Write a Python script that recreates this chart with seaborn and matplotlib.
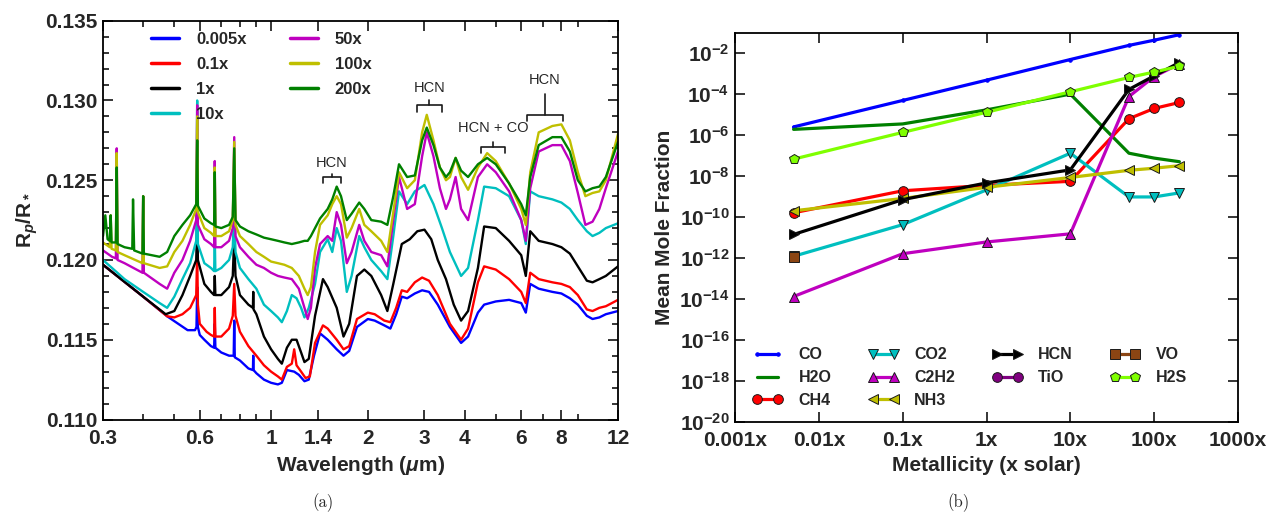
import numpy as np
import pandas as pd
import matplotlib
matplotlib.use("Agg")
import matplotlib.pyplot as plt
from matplotlib.lines import Line2D
from matplotlib.ticker import (FixedLocator, FixedFormatter, LogLocator,
                               MultipleLocator, NullLocator, NullFormatter,
                               FormatStrFormatter)
import seaborn as sns

# ---------------- panel (a): transmission spectra ----------------
metal_labels = ["0.005x", "0.1x", "1x", "10x", "50x", "100x", "200x"]
metal_colors = ["#0000ff", "#ff0000", "#000000", "#00bfbf", "#bf00bf", "#bfbf00", "#008000"]

wl_0005 = [0.30, 0.40, 0.475, 0.55, 0.58, 0.586, 0.589, 0.592, 0.60, 0.62, 0.65, 0.665, 0.668, 0.671,
           0.70, 0.74, 0.765, 0.768, 0.771, 0.80, 0.85, 0.878, 0.88, 0.882, 0.90, 0.95, 1.0, 1.05, 1.08,
           1.12, 1.18, 1.22, 1.27, 1.31, 1.36, 1.42, 1.5, 1.6, 1.68, 1.75, 1.85, 2.0, 2.1, 2.25, 2.35,
           2.45, 2.55, 2.65, 2.8, 2.95, 3.1, 3.3, 3.6, 3.9, 4.1, 4.4, 4.6, 5.0, 5.5, 6.0, 6.2, 6.4,
           6.8, 7.5, 8.0, 8.5, 9.0, 9.6, 10.0, 10.5, 11.0, 12.0]
rp_0005 = [0.1197, 0.1177, 0.11647, 0.1156, 0.1156, 0.1158, 0.1183, 0.1158, 0.1153, 0.1150, 0.1146,
           0.1145, 0.1160, 0.1145, 0.1142, 0.1140, 0.1140, 0.1162, 0.1139, 0.1137, 0.1132, 0.1131,
           0.1140, 0.1131, 0.1129, 0.1125, 0.1123, 0.1122, 0.1123, 0.1131, 0.1130, 0.1128, 0.1124,
           0.1125, 0.1140, 0.1154, 0.1150, 0.1144, 0.1140, 0.1143, 0.1158, 0.1163, 0.1162, 0.1159,
           0.1157, 0.1166, 0.1177, 0.1176, 0.1179, 0.1181, 0.1180, 0.1172, 0.1158, 0.1148, 0.1152,
           0.1167, 0.1172, 0.1174, 0.1175, 0.1173, 0.1167, 0.1185, 0.1182, 0.1180, 0.1179, 0.1176,
           0.1172, 0.1165, 0.1163, 0.1164, 0.1166, 0.1168]

wl_01 = [0.30, 0.40, 0.475, 0.50, 0.53, 0.56, 0.585, 0.589, 0.592, 0.60, 0.63, 0.65, 0.665, 0.668,
         0.671, 0.70, 0.74, 0.76, 0.768, 0.775, 0.80, 0.85, 0.90, 0.95, 1.0, 1.05, 1.08, 1.12, 1.16,
         1.18, 1.2, 1.24, 1.28, 1.32, 1.37, 1.45, 1.5, 1.6, 1.68, 1.75, 1.85, 2.0, 2.1, 2.25, 2.35,
         2.45, 2.55, 2.65, 2.8, 2.95, 3.1, 3.3, 3.6, 3.9, 4.1, 4.4, 4.6, 5.0, 5.5, 6.0, 6.2, 6.4,
         6.8, 7.5, 8.0, 8.5, 9.0, 9.6, 10.0, 10.5, 11.0, 12.0]
rp_01 = [0.1197, 0.1177, 0.11647, 0.1164, 0.1166, 0.1170, 0.1178, 0.1205, 0.1172, 0.1160, 0.1155,
         0.1153, 0.1152, 0.1170, 0.1152, 0.1152, 0.1157, 0.1165, 0.1185, 0.1165, 0.1155, 0.1146,
         0.1140, 0.1134, 0.1130, 0.1127, 0.1125, 0.1133, 0.1135, 0.1144, 0.1134, 0.1130, 0.1126,
         0.1127, 0.1148, 0.1159, 0.1157, 0.1150, 0.1144, 0.1146, 0.1163, 0.1167, 0.1166, 0.1162,
         0.1161, 0.1170, 0.1181, 0.1180, 0.1186, 0.1189, 0.1187, 0.1178, 0.1160, 0.1150, 0.1157,
         0.1186, 0.1196, 0.1194, 0.1188, 0.1180, 0.1173, 0.1192, 0.1188, 0.1186, 0.1185, 0.1183,
         0.1178, 0.1169, 0.1168, 0.1170, 0.1171, 0.1175]

wl_1 = [0.30, 0.40, 0.47, 0.50, 0.53, 0.56, 0.585, 0.589, 0.592, 0.62, 0.65, 0.665, 0.668, 0.671,
        0.70, 0.74, 0.76, 0.768, 0.775, 0.80, 0.85, 0.878, 0.88, 0.882, 0.90, 0.95, 1.0, 1.05, 1.08,
        1.12, 1.16, 1.2, 1.24, 1.27, 1.31, 1.37, 1.45, 1.5, 1.6, 1.68, 1.75, 1.85, 1.95, 2.05, 2.2,
        2.3, 2.4, 2.55, 2.7, 2.85, 3.0, 3.15, 3.3, 3.5, 3.7, 3.9, 4.1, 4.4, 4.6, 5.0, 5.5, 6.0,
        6.2, 6.4, 6.8, 7.5, 8.0, 8.5, 9.0, 9.6, 10.0, 10.5, 11.0, 12.0]
rp_1 = [0.1197, 0.1177, 0.1166, 0.1168, 0.1178, 0.1190, 0.1200, 0.1223, 0.1200, 0.1185, 0.1180,
        0.1178, 0.1190, 0.1178, 0.1178, 0.1183, 0.1190, 0.1215, 0.1190, 0.1178, 0.1172, 0.1170,
        0.1180, 0.1169, 0.1166, 0.1152, 0.1144, 0.1138, 0.1135, 0.1145, 0.1150, 0.1150, 0.1142,
        0.1136, 0.1138, 0.1165, 0.1188, 0.1183, 0.1170, 0.1152, 0.1160, 0.1190, 0.1194, 0.1190,
        0.1178, 0.1168, 0.1185, 0.1210, 0.1213, 0.1218, 0.1219, 0.1213, 0.1200, 0.1188, 0.1172,
        0.1162, 0.1168, 0.1195, 0.1221, 0.1220, 0.1212, 0.1203, 0.1190, 0.1218, 0.1212, 0.1210,
        0.1208, 0.1204, 0.1196, 0.1187, 0.1186, 0.1188, 0.1190, 0.1196]

wl_10 = [0.30, 0.32, 0.35, 0.40, 0.45, 0.475, 0.50, 0.53, 0.56, 0.585, 0.589, 0.592, 0.62, 0.65,
         0.665, 0.668, 0.671, 0.70, 0.74, 0.76, 0.768, 0.775, 0.80, 0.85, 0.90, 0.95, 1.0, 1.05,
         1.08, 1.12, 1.16, 1.2, 1.24, 1.27, 1.31, 1.37, 1.42, 1.5, 1.55, 1.6, 1.65, 1.72, 1.78, 1.88,
         1.95, 2.05, 2.2, 2.3, 2.4, 2.5, 2.65, 2.8, 3.0, 3.2, 3.4, 3.6, 3.9, 4.1, 4.4, 4.6, 5.0,
         5.5, 6.0, 6.2, 6.4, 6.8, 7.5, 8.0, 8.5, 9.0, 9.6, 10.0, 10.5, 11.0, 12.0]
rp_10 = [0.1200, 0.1195, 0.1188, 0.1180, 0.1173, 0.1170, 0.1177, 0.1188, 0.1198, 0.1212, 0.1300,
         0.1210, 0.1198, 0.1195, 0.1193, 0.1215, 0.1193, 0.1195, 0.1200, 0.1208, 0.1232, 0.1205,
         0.1195, 0.1188, 0.1182, 0.1172, 0.1168, 0.1164, 0.1161, 0.1168, 0.1178, 0.1176, 0.1170,
         0.1164, 0.1170, 0.1185, 0.1205, 0.1213, 0.1205, 0.1220, 0.1212, 0.1180, 0.1190, 0.1215,
         0.1208, 0.1200, 0.1193, 0.1188, 0.1215, 0.1243, 0.1235, 0.1243, 0.1247, 0.1235, 0.1220,
         0.1205, 0.1190, 0.1195, 0.1225, 0.1246, 0.1245, 0.1240, 0.1225, 0.1210, 0.1243, 0.1240,
         0.1238, 0.1236, 0.1232, 0.1225, 0.1218, 0.1215, 0.1217, 0.1220, 0.1223]

wl_50 = [0.30, 0.32, 0.329, 0.331, 0.333, 0.35, 0.398, 0.40, 0.402, 0.45, 0.475, 0.50, 0.53, 0.56,
         0.585, 0.589, 0.592, 0.62, 0.65, 0.665, 0.668, 0.671, 0.70, 0.74, 0.76, 0.768, 0.775, 0.80,
         0.85, 0.90, 0.95, 1.0, 1.05, 1.1, 1.16, 1.22, 1.27, 1.3, 1.33, 1.37, 1.42, 1.5, 1.55, 1.6,
         1.65, 1.72, 1.78, 1.88, 1.95, 2.05, 2.2, 2.3, 2.4, 2.5, 2.65, 2.8, 2.95, 3.05, 3.2, 3.35,
         3.5, 3.6, 3.75, 3.9, 4.1, 4.4, 4.7, 5.0, 5.5, 6.0, 6.2, 6.4, 6.8, 7.5, 8.0, 8.5, 9.0, 9.5,
         10.0, 10.5, 11.0, 12.0]
rp_50 = [0.1206, 0.1202, 0.1201, 0.1270, 0.1200, 0.1198, 0.1192, 0.1240, 0.1192, 0.1185, 0.1182,
         0.1192, 0.1200, 0.1212, 0.1225, 0.1297, 0.1222, 0.1213, 0.1210, 0.1208, 0.1262, 0.1208,
         0.1208, 0.1212, 0.1220, 0.1277, 0.1215, 0.1208, 0.1202, 0.1197, 0.1195, 0.1192, 0.1190,
         0.1189, 0.1188, 0.1182, 0.1170, 0.1163, 0.1170, 0.1195, 0.1210, 0.1215, 0.1212, 0.1230,
         0.1222, 0.1198, 0.1205, 0.1222, 0.1212, 0.1205, 0.1203, 0.1196, 0.1225, 0.1252, 0.1232,
         0.1235, 0.1265, 0.1280, 0.1265, 0.1245, 0.1232, 0.1238, 0.1252, 0.1232, 0.1225, 0.1252,
         0.1260, 0.1255, 0.1243, 0.1225, 0.1212, 0.1245, 0.1268, 0.1272, 0.1272, 0.1262, 0.1242,
         0.1222, 0.1224, 0.1232, 0.1245, 0.1268]

wl_100 = [0.30, 0.315, 0.317, 0.319, 0.329, 0.331, 0.333, 0.35, 0.398, 0.40, 0.402, 0.45, 0.475,
          0.50, 0.53, 0.56, 0.585, 0.589, 0.592, 0.62, 0.65, 0.665, 0.668, 0.671, 0.70, 0.74, 0.76,
          0.768, 0.775, 0.80, 0.85, 0.90, 0.95, 1.0, 1.05, 1.1, 1.16, 1.22, 1.27, 1.3, 1.33, 1.37,
          1.42, 1.5, 1.55, 1.6, 1.65, 1.72, 1.78, 1.88, 1.95, 2.05, 2.2, 2.3, 2.4, 2.5, 2.65, 2.8,
          2.95, 3.05, 3.2, 3.35, 3.5, 3.6, 3.75, 3.9, 4.1, 4.4, 4.7, 5.0, 5.5, 6.0, 6.2, 6.4, 6.8,
          7.5, 8.0, 8.5, 9.0, 9.5, 10.0, 10.5, 11.0, 12.0]
rp_100 = [0.1211, 0.1208, 0.1228, 0.1207, 0.1206, 0.1267, 0.1205, 0.1203, 0.1198, 0.1240, 0.1198,
          0.1195, 0.1196, 0.1205, 0.1212, 0.1222, 0.1232, 0.1290, 0.1230, 0.1220, 0.1217, 0.1215,
          0.1258, 0.1215, 0.1215, 0.1218, 0.1225, 0.1274, 0.1222, 0.1215, 0.1210, 0.1205, 0.1202,
          0.1199, 0.1198, 0.1197, 0.1195, 0.1190, 0.1182, 0.1178, 0.1183, 0.1205, 0.1222, 0.1228,
          0.1235, 0.1240, 0.1235, 0.1214, 0.1220, 0.1232, 0.1222, 0.1218, 0.1212, 0.1205, 0.1230,
          0.1255, 0.1245, 0.1250, 0.1280, 0.1291, 0.1275, 0.1258, 0.1250, 0.1252, 0.1264, 0.1252,
          0.1244, 0.1258, 0.1267, 0.1262, 0.1248, 0.1232, 0.1222, 0.1255, 0.1280, 0.1284, 0.1285,
          0.1275, 0.1255, 0.1240, 0.1242, 0.1243, 0.1250, 0.1279]

wl_200 = [0.30, 0.305, 0.31, 0.315, 0.317, 0.319, 0.329, 0.331, 0.333, 0.35, 0.37, 0.372, 0.375,
          0.398, 0.40, 0.402, 0.45, 0.475, 0.50, 0.53, 0.56, 0.585, 0.589, 0.592, 0.62, 0.65, 0.665,
          0.668, 0.671, 0.70, 0.74, 0.76, 0.768, 0.775, 0.80, 0.85, 0.90, 0.95, 1.0, 1.05, 1.1,
          1.16, 1.22, 1.27, 1.3, 1.33, 1.37, 1.42, 1.5, 1.55, 1.6, 1.65, 1.72, 1.78, 1.88, 1.95,
          2.05, 2.2, 2.3, 2.4, 2.5, 2.65, 2.8, 2.95, 3.05, 3.2, 3.35, 3.5, 3.6, 3.75, 3.9, 4.1, 4.4,
          4.7, 5.0, 5.5, 6.0, 6.2, 6.4, 6.8, 7.5, 8.0, 8.5, 9.0, 9.5, 10.0, 10.5, 11.0, 12.0]
rp_200 = [0.1215, 0.1228, 0.1213, 0.1212, 0.1228, 0.1211, 0.1211, 0.1258, 0.1210, 0.1208, 0.1207,
          0.1238, 0.1206, 0.1204, 0.1240, 0.1204, 0.1202, 0.1205, 0.1215, 0.1222, 0.1228, 0.1235,
          0.1275, 0.1234, 0.1226, 0.1223, 0.1222, 0.1255, 0.1221, 0.1220, 0.1222, 0.1227, 0.1270,
          0.1225, 0.1221, 0.1218, 0.1216, 0.1214, 0.1213, 0.1212, 0.1211, 0.1210, 0.1211, 0.1212,
          0.1212, 0.1215, 0.1220, 0.1226, 0.1232, 0.1238, 0.1246, 0.1240, 0.1225, 0.1229, 0.1236,
          0.1232, 0.1225, 0.1224, 0.1222, 0.1240, 0.1260, 0.1252, 0.1253, 0.1275, 0.1283, 0.1272,
          0.1258, 0.1252, 0.1255, 0.1264, 0.1256, 0.1252, 0.1260, 0.1264, 0.1260, 0.1248, 0.1235,
          0.1228, 0.1252, 0.1272, 0.1277, 0.1277, 0.1268, 0.1250, 0.1243, 0.1245, 0.1246, 0.1252,
          0.1274]

wl_ticks = [0.3, 0.6, 1, 1.4, 2, 3, 4, 6, 8, 12]
wl_ticklabels = ["0.3", "0.6", "1", "1.4", "2", "3", "4", "6", "8", "12"]

# absorber brackets: label, lower/upper wavelength, bracket height, label height
feat_labels = ["HCN", "HCN", "HCN + CO", "HCN"]
feat_lo = [1.45, 2.84, 4.49, 6.24]
feat_hi = [1.645, 3.39, 5.36, 8.07]
feat_top = [0.1252, 0.1297, 0.1271, 0.1291]
feat_stem = [0.1254, 0.1300, 0.1274, 0.1304]
feat_text = [0.1261, 0.1308, 0.1283, 0.1313]

# ---------------- panel (b): mean mole fractions ----------------
metallicity = [0.005, 0.1, 1, 10, 50, 100, 200]
nan = np.nan
CO = [2.5e-6, 4.9e-5, 4.8e-4, 4.9e-3, 2.4e-2, 4.3e-2, 8.0e-2]
H2O = [1.9e-6, 3.5e-6, 1.7e-5, 1.0e-4, 1.3e-7, 7.5e-8, 5.0e-8]
CH4 = [1.6e-10, 1.9e-9, 3.5e-9, 5.5e-9, 6.3e-6, 2.0e-5, 3.9e-5]
CO2 = [1.2e-12, 4.2e-11, 2.1e-9, 1.3e-7, 9.5e-10, 9.5e-10, 1.5e-9]
C2H2 = [1.3e-14, 1.6e-12, 6.0e-12, 1.5e-11, 7.6e-5, 7.2e-4, 3.0e-3]
NH3 = [2.0e-10, 8.0e-10, 2.8e-9, 8.5e-9, 1.9e-8, 2.4e-8, 3.2e-8]
HCN = [1.4e-11, 7.0e-10, 4.6e-9, 2.0e-8, 1.7e-4, 7.8e-4, 3.5e-3]
TiO = [nan, nan, nan, nan, nan, nan, nan]
VO = [1.1e-12, nan, nan, nan, nan, nan, nan]
H2S = [6.7e-8, 1.35e-6, 1.3e-5, 1.3e-4, 6.5e-4, 1.2e-3, 2.3e-3]

species = ["CO", "H2O", "CH4", "CO2", "C2H2", "NH3", "HCN", "TiO", "VO", "H2S"]
species_vals = [CO, H2O, CH4, CO2, C2H2, NH3, HCN, TiO, VO, H2S]
species_colors = ["#0000ff", "#008000", "#ff0000", "#00bfbf", "#bf00bf", "#bfbf00", "#000000",
                  "#800080", "#8b4513", "#7fff00"]
species_markers = [".", None, "o", "v", "^", "<", ">", "o", "s", "p"]

met_ticks = [1e-3, 1e-2, 1e-1, 1, 10, 100, 1000]
met_ticklabels = ["0.001x", "0.01x", "0.1x", "1x", "10x", "100x", "1000x"]
frac_ticks = [1e-20, 1e-18, 1e-16, 1e-14, 1e-12, 1e-10, 1e-8, 1e-6, 1e-4, 1e-2]
frac_ticklabels = [r"$10^{-20}$", r"$10^{-18}$", r"$10^{-16}$", r"$10^{-14}$", r"$10^{-12}$",
                   r"$10^{-10}$", r"$10^{-8}$", r"$10^{-6}$", r"$10^{-4}$", r"$10^{-2}$"]

# ---------------- style ----------------
sns.set_theme(style="ticks")
plt.rcParams.update({
    "font.family": ["Liberation Sans", "DejaVu Sans"],
    "font.weight": "bold",
    "axes.labelweight": "bold",
    "mathtext.fontset": "custom",
    "mathtext.rm": "Liberation Sans:bold",
    "mathtext.bf": "Liberation Sans:bold",
    "mathtext.it": "Liberation Sans:italic:bold",
    "mathtext.sf": "Liberation Sans:bold",
    "axes.linewidth": 1.3,
    "axes.edgecolor": "black",
})

fig = plt.figure(figsize=(12.78, 5.17), dpi=100)
W, H = 1278.0, 517.0
ax1 = fig.add_axes([103 / W, 1 - 419.5 / H, (618 - 103) / W, (419.5 - 20.7) / H])
ax2 = fig.add_axes([735 / W, 1 - 421.7 / H, (1238 - 735) / W, (421.7 - 32.7) / H])

# panel (a)
spectra = [(wl_0005, rp_0005), (wl_01, rp_01), (wl_1, rp_1), (wl_10, rp_10),
           (wl_50, rp_50), (wl_100, rp_100), (wl_200, rp_200)]
frames = []
for lab, (w, r) in zip(metal_labels, spectra):
    frames.append(pd.DataFrame({"wavelength": w, "rp": r, "metallicity": lab}))
df_spec = pd.concat(frames, ignore_index=True)

ax1.set_xscale("log")
sns.lineplot(data=df_spec, x="wavelength", y="rp", hue="metallicity",
             hue_order=metal_labels, palette=metal_colors, estimator=None,
             linewidth=1.7, legend=False, ax=ax1)
ax1.set_xlim(0.3, 12)
ax1.set_ylim(0.110, 0.135)
ax1.xaxis.set_major_locator(FixedLocator(wl_ticks))
ax1.xaxis.set_major_formatter(FixedFormatter(wl_ticklabels))
ax1.xaxis.set_minor_locator(LogLocator(base=10, subs=np.arange(2, 10)))
ax1.xaxis.set_minor_formatter(NullFormatter())
ax1.yaxis.set_major_locator(MultipleLocator(0.005))
ax1.yaxis.set_minor_locator(MultipleLocator(0.001))
ax1.yaxis.set_major_formatter(FormatStrFormatter("%.3f"))
ax1.set_xlabel(r"Wavelength ($\mu$m)", fontsize=15)
ax1.set_ylabel(r"R$_p$/R$_*$", fontsize=15)

for lab, lo, hi, top, stem, ty in zip(feat_labels, feat_lo, feat_hi, feat_top, feat_stem, feat_text):
    mid = np.sqrt(lo * hi)
    ax1.plot([lo, lo, hi, hi], [top - 0.0004, top, top, top - 0.0004], color="k", lw=1.2)
    ax1.plot([mid, mid], [top, stem], color="k", lw=1.2)
    ax1.text(mid, ty, lab, ha="center", va="center", fontsize=10.5, fontweight="normal")

spec_handles = [Line2D([], [], color=c, lw=2.5) for c in metal_colors]
ax1.legend(spec_handles, metal_labels, ncol=2, loc="upper left", bbox_to_anchor=(0.093, 0.972),
           frameon=False, fontsize=12, handlelength=1.7, handletextpad=1.0,
           columnspacing=2.6, labelspacing=0.6, borderpad=0, borderaxespad=0)

# panel (b)
ax2.set_xscale("log")
ax2.set_yscale("log")
for name, vals, col, mk in zip(species, species_vals, species_colors, species_markers):
    d = pd.DataFrame({"metallicity": metallicity, "fraction": vals}).dropna()
    if d.empty:
        continue
    ms = 5 if mk == "." else 7
    sns.lineplot(data=d, x="metallicity", y="fraction", color=col, marker=mk, markersize=ms,
                 markeredgecolor="k" if mk not in (".", None) else col, markeredgewidth=0.7,
                 linewidth=2.3, estimator=None, legend=False, ax=ax2)
ax2.set_xlim(1e-3, 1e3)
ax2.set_ylim(1e-20, 1e-1)
ax2.xaxis.set_major_locator(FixedLocator(met_ticks))
ax2.xaxis.set_major_formatter(FixedFormatter(met_ticklabels))
ax2.xaxis.set_minor_locator(NullLocator())
ax2.yaxis.set_major_locator(FixedLocator(frac_ticks))
ax2.yaxis.set_major_formatter(FixedFormatter(frac_ticklabels))
ax2.yaxis.set_minor_locator(NullLocator())
ax2.set_xlabel("Metallicity (x solar)", fontsize=15)
ax2.set_ylabel("Mean Mole Fraction", fontsize=15)

mol_handles = []
for col, mk in zip(species_colors, species_markers):
    mol_handles.append(Line2D([], [], color=col, lw=2.3, marker=mk,
                              markersize=5 if mk == "." else 7,
                              markeredgecolor="k" if mk not in (".", None) else col,
                              markeredgewidth=0.7))
ax2.legend(mol_handles, species, ncol=4, numpoints=2, loc="lower left",
           bbox_to_anchor=(0.034, 0.035), frameon=False, fontsize=11.5, handlelength=1.9,
           handletextpad=1.0, columnspacing=2.3, labelspacing=0.5, borderpad=0,
           borderaxespad=0)

for ax in (ax1, ax2):
    ax.tick_params(which="both", direction="in", top=True, right=True, labelsize=15, width=1.3)
    ax.tick_params(which="major", length=7)
    ax.tick_params(which="minor", length=4)
    ax.tick_params(axis="x", which="major", pad=7)
    ax.tick_params(axis="y", which="major", pad=4)
    for t in ax.get_xticklabels() + ax.get_yticklabels():
        t.set_fontweight("bold")

fig.text(323 / W, 1 - 503 / H, "(a)", ha="center", va="center", fontsize=12,
         family=["cmr10", "DejaVu Serif"], fontweight="normal")
fig.text(958 / W, 1 - 503 / H, "(b)", ha="center", va="center", fontsize=12,
         family=["cmr10", "DejaVu Serif"], fontweight="normal")

fig.savefig("out.png", dpi=100)
